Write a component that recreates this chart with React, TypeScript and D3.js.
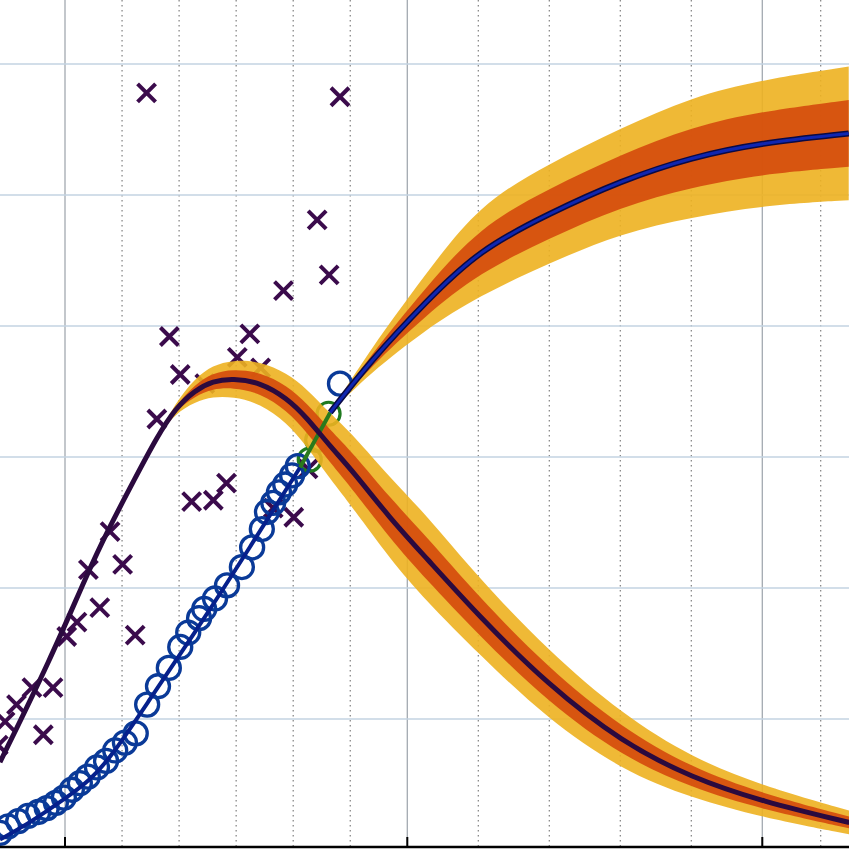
import * as d3 from 'd3';

const W = 849;
const H = 849;

// x grid: solid major lines, dotted minor lines
const majorX = [0, 6, 11];
const minorX = [1, 2, 3, 4, 5, 7, 8, 9, 10, 12];
const gridY = [1, 2, 3, 4, 5, 6];

// scattered observations (x markers)
const crossX = [1.43, 4.82, 4.42, 4.63, 3.83, 1.83, 3.24, 2.02, 3.02, 3.43, 2.45, 1.61, 2.22, 2.6, 2.83, 4.26, 4.01, 3.65, 0.79, 1.01, 0.41, 0.61, 1.23, 0.21, 0.03, -0.21, -0.58, -0.38, -0.85, -1.05, -1.17];
const crossY = [5.78, 5.75, 4.81, 4.39, 4.27, 3.92, 3.94, 3.63, 3.76, 3.68, 3.56, 3.29, 2.66, 2.67, 2.8, 2.91, 2.54, 2.61, 2.43, 2.18, 2.14, 1.85, 1.64, 1.74, 1.63, 1.24, 1.24, 0.88, 1.11, 0.98, 0.8];

// cumulative observations (blue circles)
const circleX = [-1.14, -1.0, -0.82, -0.65, -0.47, -0.32, -0.16, -0.02, 0.12, 0.26, 0.4, 0.56, 0.72, 0.88, 1.05, 1.24, 1.44, 1.63, 1.82, 2.02, 2.16, 2.35, 2.44, 2.63, 2.84, 3.1, 3.28, 3.45, 3.54, 3.65, 3.75, 3.86, 3.98, 4.08, 4.82];
const circleY = [0.13, 0.18, 0.22, 0.26, 0.29, 0.32, 0.36, 0.4, 0.46, 0.51, 0.56, 0.63, 0.68, 0.76, 0.82, 0.89, 1.11, 1.25, 1.39, 1.55, 1.66, 1.77, 1.84, 1.92, 2.02, 2.16, 2.31, 2.45, 2.58, 2.65, 2.73, 2.79, 2.86, 2.93, 3.56];

// held-out points (green circles)
const greenX = [4.29, 4.42, 4.62];
const greenY = [2.98, 3.13, 3.33];

// fitted cumulative curve, then green link, then forecast
const fitX = [-1.14, -0.61, -0.04, 0.44, 0.84, 1.44, 2.37, 3.24, 4.12];
const fitY = [0.08, 0.21, 0.38, 0.53, 0.73, 1.12, 1.72, 2.31, 2.92];
const linkX = [4.12, 4.65];
const linkY = [2.92, 3.34];
const riseX = [4.65, 5.35, 6.25, 7.01, 8.0, 9.01, 10.01, 11.0, 12.48];
const riseY = [3.34, 3.73, 4.18, 4.58, 4.86, 5.11, 5.29, 5.4, 5.47];
const riseSd = [0, 0.045, 0.105, 0.175, 0.19, 0.2, 0.23, 0.24, 0.255];

// fitted rate curve with its uncertainty
const peakX = [-1.14, -0.26, 0.4, 0.75, 1.23, 1.61, 1.93, 2.28, 2.59, 2.94, 3.42, 3.89, 4.24, 4.65, 5.05, 5.7, 6.25, 7.0, 7.98, 9.03, 10.01, 11.0, 12.49];
const peakY = [0.67, 1.45, 2.12, 2.44, 2.84, 3.15, 3.37, 3.51, 3.58, 3.6, 3.57, 3.45, 3.3, 3.08, 2.89, 2.53, 2.24, 1.79, 1.26, 0.82, 0.55, 0.37, 0.21];
const peakSd = [0, 0, 0, 0, 0, 0, 0.02, 0.045, 0.06, 0.07, 0.08, 0.095, 0.11, 0.125, 0.14, 0.155, 0.165, 0.145, 0.132, 0.107, 0.077, 0.06, 0.045];

const x = d3.scaleLinear().domain([0, 6, 11, 12]).range([65, 407.3, 762.3, 820.7]);
const y = d3.scaleLinear().domain([1, 6]).range([719, 64]);

type P = { x: number; y: number; sd: number };
const zip = (xs: number[], ys: number[], sds?: number[]): P[] =>
  xs.map((v, i) => ({ x: v, y: ys[i], sd: sds ? sds[i] : 0 }));

const line = d3
  .line<P>()
  .x((d) => x(d.x))
  .y((d) => y(d.y))
  .curve(d3.curveBasis);

const band = (k: number) =>
  d3
    .area<P>()
    .x((d) => x(d.x))
    .y0((d) => y(d.y - k * d.sd))
    .y1((d) => y(d.y + k * d.sd))
    .curve(d3.curveBasis);

const peak = zip(peakX, peakY, peakSd);
const rise = zip(riseX, riseY, riseSd);
const fit = zip(fitX, fitY);
const link = zip(linkX, linkY);
const crosses = zip(crossX, crossY);
const circles = zip(circleX, circleY);
const greens = zip(greenX, greenY);

const YELLOW = '#EDB120';
const ORANGE = '#D44A0C';
const axisY = 847;

export default function App() {
  const s = 9;
  return (
    <svg
      width={W}
      height={H}
      style={{ position: 'absolute', left: 0, top: 0, background: '#fff' }}
    >
      {/* grid */}
      {minorX.map((t) => (
        <line key={'m' + t} x1={x(t)} x2={x(t)} y1={0} y2={axisY}
          stroke="#7f7f7f" strokeWidth={1.2} strokeDasharray="1.5,3.5" />
      ))}
      {majorX.map((t) => (
        <line key={'M' + t} x1={x(t)} x2={x(t)} y1={0} y2={axisY}
          stroke="#a3a9b0" strokeWidth={1.3} />
      ))}
      {gridY.map((t) => (
        <line key={'h' + t} x1={0} x2={W} y1={y(t)} y2={y(t)}
          stroke="#c3d3e2" strokeWidth={1.6} />
      ))}

      {/* scattered x markers */}
      <g stroke="#3b0b4c" strokeWidth={4}>
        {crosses.map((d, i) => {
          const cx = x(d.x);
          const cy = y(d.y);
          return (
            <path key={i}
              d={`M${cx - s},${cy - s}L${cx + s},${cy + s}M${cx - s},${cy + s}L${cx + s},${cy - s}`} />
          );
        })}
      </g>

      {/* held-out points */}
      <g fill="none" stroke="#1f7a1f" strokeWidth={3.2}>
        {greens.map((d, i) => (
          <circle key={i} cx={x(d.x)} cy={y(d.y)} r={11.5} />
        ))}
      </g>

      {/* uncertainty bands */}
      <g fillOpacity={0.9}>
        <path d={band(2)(peak) || ''} fill={YELLOW} />
        <path d={band(1)(peak) || ''} fill={ORANGE} />
        <path d={band(2)(rise) || ''} fill={YELLOW} />
        <path d={band(1)(rise) || ''} fill={ORANGE} />
      </g>

      {/* cumulative observations */}
      <g fill="none" stroke="#0a3a98" strokeWidth={3.3}>
        {circles.map((d, i) => (
          <circle key={i} cx={x(d.x)} cy={y(d.y)} r={11.5} />
        ))}
      </g>
      <path d={line(fit) || ''} fill="none" stroke="#06208c" strokeWidth={4} />
      <path d={line(link) || ''} fill="none" stroke="#2a7a1c" strokeWidth={4} />

      {/* fitted curves */}
      <path d={line(peak) || ''} fill="none" stroke="#2b0a3f" strokeWidth={5} />
      <path d={line(rise) || ''} fill="none" stroke="#0a0a45" strokeWidth={6} />
      <path d={line(rise) || ''} fill="none" stroke="#1026b0" strokeWidth={3} />

      {/* bottom axis */}
      <line x1={0} x2={W} y1={axisY} y2={axisY} stroke="#000" strokeWidth={2.5} />
      {majorX.map((t) => (
        <line key={'t' + t} x1={x(t)} x2={x(t)} y1={axisY - 10} y2={axisY}
          stroke="#000" strokeWidth={2} />
      ))}
    </svg>
  );
}
